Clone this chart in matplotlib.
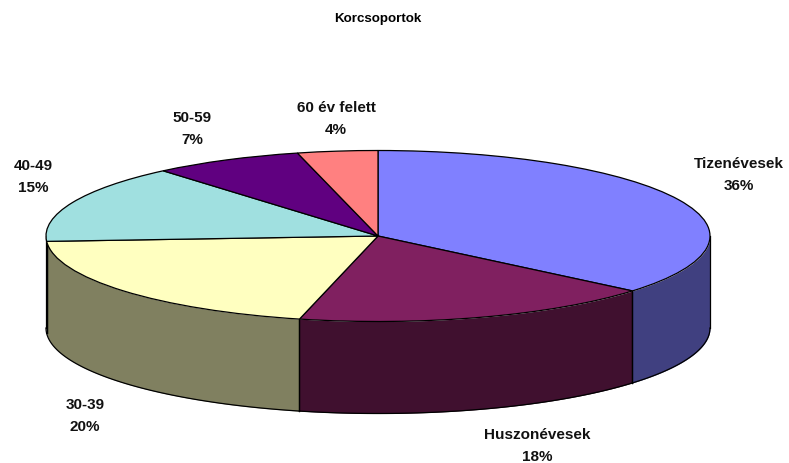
import numpy as np
import matplotlib.pyplot as plt

plt.rcParams['font.family'] = ['Liberation Sans', 'DejaVu Sans']

title = 'Korcsoportok'
groups = ['Tizenévesek', 'Huszonévesek', '30-39', '40-49', '50-59', '60 év felett']
shares = [36.1, 17.7, 20.2, 14.8, 7.3, 3.9]
top_colors = ['#8080ff', '#802060', '#ffffc0', '#a0e0e0', '#600080', '#ff8080']
side_colors = ['#404080', '#40102f', '#808060', '#507070', '#300040', '#804040']

W, H = 789, 464
cx, cy = 378, 237   # centre of the top ellipse, pixels
rx, ry = 332, 85.5
depth = 92 / ry

fig = plt.figure(figsize=(W / 100, H / 100), dpi=100)
ax = fig.add_axes([0, 0, 1, 1])

# side wall first, only the front half of the pie can be seen
edges = np.cumsum([0] + shares) * 3.6
for i in range(len(shares)):
    a = max(edges[i], 90)
    b = min(edges[i + 1], 270)
    if a >= b:
        continue
    t = np.radians(np.linspace(a, b, 60))
    ax.fill_between(np.sin(t), np.cos(t), np.cos(t) - depth,
                    color=side_colors[i], lw=0, zorder=1)
    ax.plot(np.sin(t), np.cos(t) - depth, color='black', lw=0.9, zorder=2)
    ax.plot([np.sin(t[0])] * 2, [np.cos(t[0]), np.cos(t[0]) - depth], color='black', lw=0.9, zorder=2)
    ax.plot([np.sin(t[-1])] * 2, [np.cos(t[-1]), np.cos(t[-1]) - depth], color='black', lw=0.9, zorder=2)

wedges, _ = ax.pie(shares, colors=top_colors, startangle=90, counterclock=False,
                   radius=1, wedgeprops={'edgecolor': 'black', 'linewidth': 0.9, 'zorder': 3})

# squash the circle into the ellipse
ax.set_aspect('auto')
ax.set_xlim((0 - cx) / rx, (W - cx) / rx)
ax.set_ylim((cy - H) / ry, cy / ry)
ax.axis('off')

# label centres in pixels
label_pos = [(739, 175), (537, 446), (85, 416), (33, 177), (192, 129), (336, 119)]
for name, val, (px, py) in zip(groups, shares, label_pos):
    fig.text(px / W, 1 - py / H, f'{name}\n{round(val)}%', ha='center', va='center',
             fontsize=11, fontweight='bold', linespacing=1.65, color='#111111')

fig.text(378 / W, 1 - 19 / H, title, ha='center', va='center', fontsize=9.6, fontweight='bold')

fig.savefig('out.png', dpi=100)
